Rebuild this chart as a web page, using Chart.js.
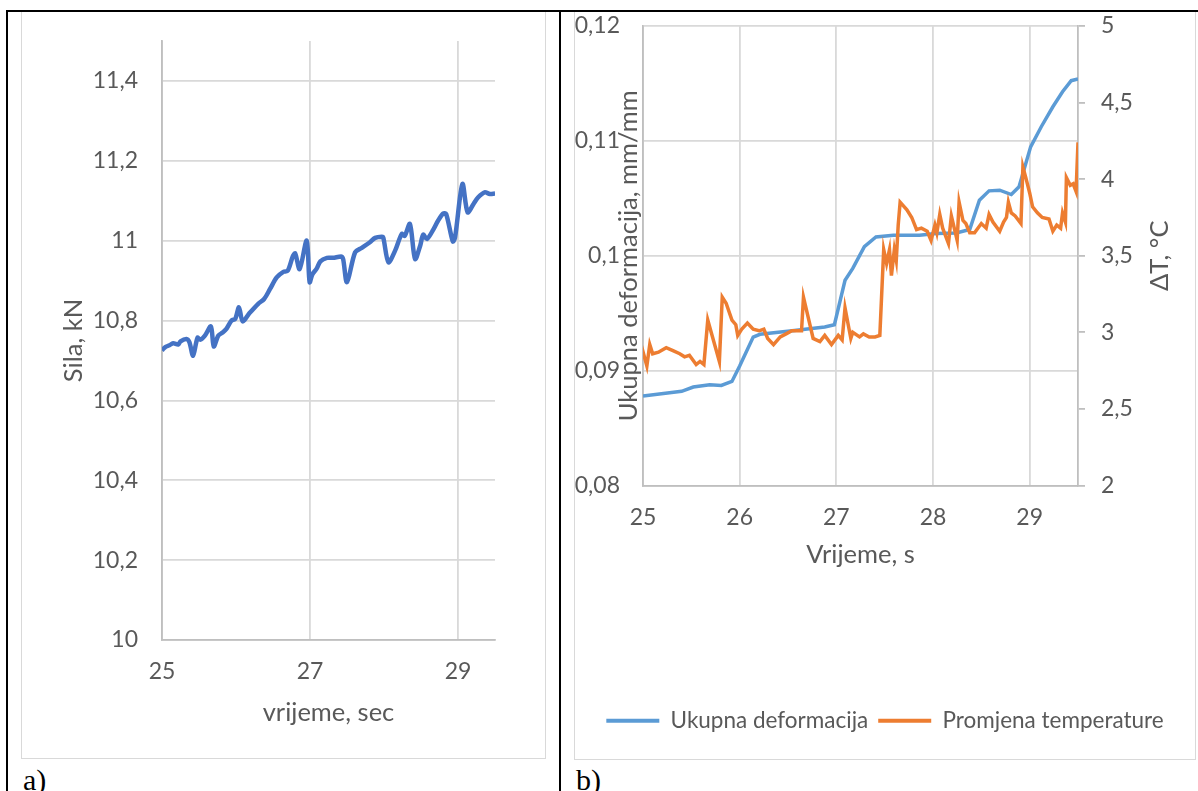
<!DOCTYPE html>
<html>
<head>
<meta charset="utf-8">
<script src="https://cdn.jsdelivr.net/npm/chart.js@4.4.1/dist/chart.umd.min.js"></script>
<style>
  body { margin: 0; width: 1198px; height: 791px; background: #fff; position: relative; overflow: hidden; }
  .rule { position: absolute; background: #000; }
  .box { position: absolute; border: 1px solid #d9d9d9; }
  .tag { position: absolute; font-family: "Liberation Serif", serif; font-size: 30px; line-height: 1; color: #000; }
  canvas { display: block; }
</style>
</head>
<body>
<div class="box" style="left:21px;top:11px;width:523px;height:746px"><canvas id="chartA" width="523" height="746"></canvas></div>
<div class="box" style="left:574px;top:11px;width:620px;height:747px"><canvas id="chartB" width="620" height="747"></canvas></div>
<div class="rule" style="left:6px;top:10px;width:1192px;height:2px"></div>
<div class="rule" style="left:6px;top:10px;width:2px;height:781px"></div>
<div class="rule" style="left:559px;top:10px;width:2px;height:781px"></div>
<div class="tag" style="left:23px;top:765px">a)</div>
<div class="tag" style="left:576px;top:765px">b)</div>
<script>
// a) sila u vremenu
const xTicksA = [25, 27, 29]
const timeA = [25.00, 25.04, 25.10, 25.15, 25.22, 25.25, 25.33, 25.37, 25.42, 25.48, 25.52, 25.58,
  25.66, 25.70, 25.76, 25.82, 25.87, 25.94, 25.99, 26.04, 26.09, 26.18, 26.30, 26.38, 26.46,
  26.55, 26.64, 26.70, 26.77, 26.80, 26.86, 26.955, 26.995, 27.03, 27.09, 27.14, 27.23, 27.31,
  27.43, 27.45, 27.50, 27.61, 27.70, 27.81, 27.88, 27.97, 27.99, 28.06, 28.15, 28.24, 28.28,
  28.35, 28.42, 28.49, 28.53, 28.58, 28.67, 28.73, 28.80, 28.84, 28.93, 28.96, 29.06, 29.13,
  29.21, 29.27, 29.36, 29.43, 29.50]
const forceA = [10.725, 10.733, 10.738, 10.743, 10.740, 10.748, 10.754, 10.746, 10.712, 10.757, 10.752, 10.762,
  10.785, 10.735, 10.762, 10.770, 10.779, 10.800, 10.804, 10.833, 10.798, 10.818, 10.842, 10.854, 10.879,
  10.908, 10.922, 10.925, 10.962, 10.968, 10.929, 11.000, 10.896, 10.915, 10.930, 10.948, 10.957, 10.957,
  10.960, 10.952, 10.896, 10.971, 10.982, 10.996, 11.007, 11.010, 11.008, 10.946, 10.975, 11.017, 11.012,
  11.042, 10.954, 10.988, 11.015, 11.004, 11.029, 11.050, 11.068, 11.067, 10.998, 11.008, 11.142, 11.071,
  11.092, 11.108, 11.121, 11.117, 11.118]

// b) deformacija i temperatura
const timeDef = [25.00, 25.40, 25.52, 25.69, 25.81, 25.92, 26.00, 26.14, 26.21, 26.52, 26.88, 26.98,
  27.09, 27.17, 27.29, 27.41, 27.59, 27.86, 28.03, 28.24, 28.38, 28.48, 28.58, 28.69, 28.81, 28.89,
  29.01, 29.12, 29.24, 29.34, 29.43, 29.50]
const deformation = [0.0878, 0.0882, 0.08857, 0.08877, 0.08871, 0.08906, 0.09040, 0.09292, 0.09316, 0.09345, 0.0938, 0.0940,
  0.09787, 0.09890, 0.10080, 0.10164, 0.10179, 0.10179, 0.10193, 0.10199, 0.10228, 0.10484, 0.10565, 0.10571, 0.10533, 0.10600,
  0.10948, 0.11123, 0.11297, 0.11428, 0.11524, 0.11538]

const timeTemp = [25.00, 25.01, 25.04, 25.07, 25.10, 25.16, 25.24, 25.31, 25.38, 25.43, 25.48, 25.55, 25.59, 25.63,
  25.67, 25.79, 25.82, 25.86, 25.92, 25.96, 25.98, 26.02, 26.08, 26.14, 26.20, 26.25, 26.29, 26.35, 26.42,
  26.48, 26.54, 26.64, 26.66, 26.76, 26.83, 26.88, 26.95, 27.02, 27.06, 27.09, 27.15, 27.17, 27.24, 27.28,
  27.34, 27.40, 27.45, 27.49, 27.52, 27.55, 27.57, 27.60, 27.62, 27.64, 27.66, 27.73, 27.78, 27.83, 27.88,
  27.94, 27.98, 28.02, 28.04, 28.07, 28.10, 28.16, 28.19, 28.25, 28.27, 28.31, 28.34, 28.38, 28.43, 28.50,
  28.55, 28.58, 28.62, 28.69, 28.73, 28.76, 28.78, 28.81, 28.85, 28.91, 28.93, 28.96, 29.00, 29.03, 29.08,
  29.13, 29.20, 29.24, 29.28, 29.32, 29.34, 29.37, 29.38, 29.42, 29.45, 29.48, 29.50]
const deltaT = [2.84, 2.85, 2.78, 2.92, 2.86, 2.87, 2.90, 2.88, 2.86, 2.84, 2.85, 2.79, 2.81, 2.79,
  3.08, 2.81, 3.23, 3.19, 3.08, 3.05, 2.98, 3.02, 3.06, 3.02, 3.01, 3.02, 2.96, 2.92, 2.97,
  2.99, 3.01, 3.01, 3.23, 2.96, 2.94, 2.98, 2.92, 2.98, 2.95, 3.16, 2.96, 3.00, 2.97, 2.99,
  2.97, 2.97, 2.98, 3.54, 3.45, 3.54, 3.37, 3.54, 3.47, 3.70, 3.85, 3.80, 3.75, 3.67, 3.68,
  3.66, 3.60, 3.70, 3.65, 3.77, 3.68, 3.58, 3.76, 3.60, 3.85, 3.73, 3.71, 3.65, 3.65, 3.71,
  3.68, 3.77, 3.72, 3.66, 3.72, 3.75, 3.85, 3.78, 3.76, 3.71, 4.08, 4.01, 3.91, 3.82, 3.78,
  3.75, 3.74, 3.66, 3.70, 3.68, 3.78, 3.72, 4.01, 3.96, 3.97, 3.92, 4.24]

function pairs(xs, ys) {
  return xs.map((x, i) => ({x: x, y: ys[i]}))
}

// decimalni zarez
const fmt = (v) => String(Math.round(v * 1000) / 1000).replace('.', ',')

// fiksna sirina/visina osi, bez dodatnog razmaka za oznake
function fixWidth(w) {
  return (s) => { s.width = w; s.paddingTop = 0; s.paddingBottom = 0 }
}
function fixHeight(h) {
  return (s) => { s.height = h; s.paddingLeft = 0; s.paddingRight = 0 }
}

Chart.defaults.font.family = 'Lato'
Chart.defaults.color = '#595959'

const grid = {color: '#d9d9d9', lineWidth: 1.8, drawTicks: false}
const border = {color: '#bfbfbf', width: 1.8}

new Chart(document.getElementById('chartA'), {
  type: 'line',
  data: {
    datasets: [{
      data: pairs(timeA, forceA),
      borderColor: '#4472c4',
      borderWidth: 4.5,
      pointRadius: 0,
      tension: 0.3,
    }]
  },
  options: {
    responsive: false,
    animation: false,
    events: [],
    layout: {padding: {top: 29, right: 50, left: 0, bottom: 0}},
    plugins: {legend: {display: false}, tooltip: {enabled: false}},
    scales: {
      x: {
        type: 'linear', min: 25, max: 29.5,
        grid: grid, border: border,
        afterBuildTicks: (s) => { s.ticks = xTicksA.map((v) => ({value: v})) },
        afterFit: fixHeight(118),
        ticks: {padding: 18, maxRotation: 0, font: {size: 23}, callback: fmt},
        title: {display: true, text: 'vrijeme, sec', font: {size: 25.5}, padding: {bottom: 30}}
      },
      y: {
        min: 10, max: 11.5,
        grid: grid, border: border,
        afterFit: fixWidth(140),
        ticks: {stepSize: 0.2, includeBounds: false, padding: 24, font: {size: 23}, callback: fmt},
        title: {display: true, text: 'Sila, kN', font: {size: 25.5}, padding: {top: 36}}
      }
    }
  }
})

// naslov desne osi, okrenut kao u Excelu
const tempTitle = {
  id: 'tempTitle',
  afterDraw(chart) {
    const s = chart.scales.y1
    const ctx = chart.ctx
    ctx.save()
    ctx.translate(s.right - 35, (chart.chartArea.top + chart.chartArea.bottom) / 2)
    ctx.rotate(-Math.PI / 2)
    ctx.font = '25.5px Lato'
    ctx.fillStyle = '#595959'
    ctx.textAlign = 'center'
    ctx.textBaseline = 'middle'
    ctx.fillText('ΔT, °C', 0, 0)
    ctx.restore()
  }
}

new Chart(document.getElementById('chartB'), {
  type: 'line',
  data: {
    datasets: [{
      label: 'Ukupna deformacija',
      data: pairs(timeDef, deformation),
      borderColor: '#5b9bd5',
      backgroundColor: '#5b9bd5',
      borderWidth: 3.5,
      pointRadius: 0,
      tension: 0,
      yAxisID: 'y',
      order: 1,
    }, {
      label: 'Promjena temperature',
      data: pairs(timeTemp, deltaT),
      borderColor: '#ed7d31',
      backgroundColor: '#ed7d31',
      borderWidth: 3.5,
      pointRadius: 0,
      tension: 0,
      yAxisID: 'y1',
      order: 0,
    }]
  },
  options: {
    responsive: false,
    animation: false,
    events: [],
    layout: {padding: {top: 14, right: 0, left: 0, bottom: 17}},
    plugins: {
      tooltip: {enabled: false},
      legend: {
        position: 'bottom',
        labels: {
          boxWidth: 53,
          boxHeight: 4,
          padding: 10,
          font: {size: 22.5},
          sort: (a, b) => a.datasetIndex - b.datasetIndex,
          generateLabels: (chart) => Chart.defaults.plugins.legend.labels.generateLabels(chart)
            .map((item) => Object.assign(item, {lineWidth: 0}))
        }
      }
    },
    scales: {
      x: {
        type: 'linear', min: 25, max: 29.5,
        grid: grid, border: border,
        afterFit: fixHeight(214),
        ticks: {stepSize: 1, includeBounds: false, padding: 18, maxRotation: 0, font: {size: 23}, callback: fmt},
        title: {display: true, text: 'Vrijeme, s', font: {size: 25.5}, padding: {bottom: 129}}
      },
      y: {
        position: 'left',
        min: 0.08, max: 0.12,
        grid: grid, border: border,
        afterFit: fixWidth(68),
        ticks: {stepSize: 0.01, padding: 23, font: {size: 23}, callback: fmt},
        title: {display: true, text: 'Ukupna deformacija, mm/mm', font: {size: 25.5}, padding: {top: 38}}
      },
      y1: {
        position: 'right',
        min: 2, max: 5,
        border: border,
        grid: {drawOnChartArea: false, drawTicks: true, tickLength: 7, color: '#bfbfbf', lineWidth: 1.8},
        afterFit: fixWidth(117),
        ticks: {stepSize: 0.5, padding: 16, font: {size: 23}, callback: fmt}
      }
    }
  },
  plugins: [tempTitle]
})
</script>
</body>
</html>
